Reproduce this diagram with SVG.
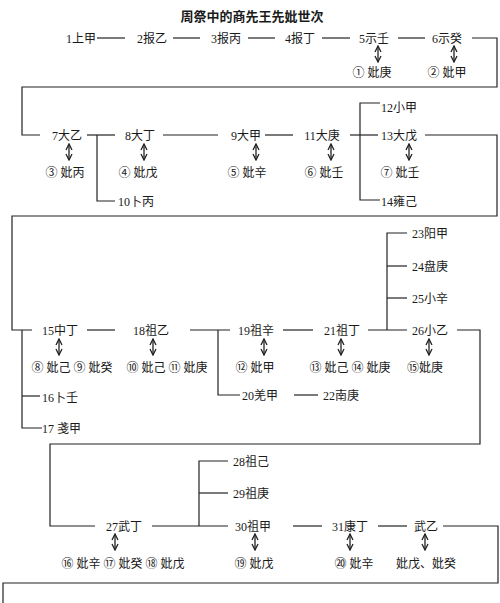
<svg xmlns="http://www.w3.org/2000/svg" width="500" height="603" viewBox="0 0 500 603">
<style>
text{font-family:"Liberation Serif","Noto Sans CJK SC",serif;font-size:12px;fill:#1a1a1a}
.t{font-size:13px;font-weight:bold}
.m{text-anchor:middle}
.s{text-anchor:start}
.c line,.c polyline{stroke:#222;stroke-width:1.2;fill:none}
.c .a{stroke-width:1.3}
</style>
<defs>
<marker id="ah" viewBox="0 0 8 8" refX="7" refY="4" markerWidth="8" markerHeight="8" markerUnits="userSpaceOnUse" orient="auto-start-reverse">
<path d="M1,1 L7,4 L1,7" fill="none" stroke="#222" stroke-width="1.3"/>
</marker>
</defs>
<rect width="500" height="603" fill="#fff"/>
<text class="t m" x="252" y="21">周祭中的商先王先妣世次</text>
<g class="c" id="connectors">
<line x1="97" y1="38" x2="125" y2="38"/>
<line x1="173" y1="38" x2="200" y2="38"/>
<line x1="248" y1="38" x2="275" y2="38"/>
<line x1="322" y1="38" x2="350" y2="38"/>
<line x1="398" y1="38" x2="425" y2="38"/>
<polyline points="472,38 497,38 497,87 22,87 22,135 40,135"/>
<line x1="87" y1="135" x2="115" y2="135"/>
<polyline points="97,135 97,201 115,201"/>
<line x1="163" y1="135" x2="218" y2="135"/>
<line x1="265" y1="135" x2="293" y2="135"/>
<line x1="350" y1="135" x2="378" y2="135"/>
<polyline points="380,103 360,103 360,200 380,200"/>
<polyline points="425,135 497,135 497,216 12,216 12,330 32,330"/>
<polyline points="22,330 22,428 42,428"/>
<line x1="22" y1="396" x2="40" y2="396"/>
<line x1="87" y1="330" x2="115" y2="330"/>
<line x1="190" y1="330" x2="230" y2="330"/>
<polyline points="218,330 218,395 240,395"/>
<line x1="283" y1="330" x2="313" y2="330"/>
<line x1="368" y1="330" x2="407" y2="330"/>
<polyline points="407,233 387,233 387,330"/>
<line x1="387" y1="266" x2="407" y2="266"/>
<line x1="387" y1="298" x2="407" y2="298"/>
<line x1="294" y1="395" x2="318" y2="395"/>
<polyline points="457,330 480,330 480,444 50,444 50,526 95,526"/>
<line x1="152" y1="526" x2="228" y2="526"/>
<polyline points="228,461 199,461 199,526"/>
<line x1="199" y1="493" x2="228" y2="493"/>
<line x1="293" y1="526" x2="322" y2="526"/>
<line x1="378" y1="526" x2="407" y2="526"/>
<polyline points="443,526 498,526 498,583 3,583 3,603"/>
<g id="spouse-links">
<line class="a" x1="378" y1="46" x2="378" y2="62" marker-start="url(#ah)" marker-end="url(#ah)"/>
<line class="a" x1="454" y1="46" x2="454" y2="62" marker-start="url(#ah)" marker-end="url(#ah)"/>
<line class="a" x1="69" y1="144" x2="69" y2="160" marker-start="url(#ah)" marker-end="url(#ah)"/>
<line class="a" x1="144" y1="144" x2="144" y2="160" marker-start="url(#ah)" marker-end="url(#ah)"/>
<line class="a" x1="256" y1="144" x2="256" y2="160" marker-start="url(#ah)" marker-end="url(#ah)"/>
<line class="a" x1="331" y1="144" x2="331" y2="160" marker-start="url(#ah)" marker-end="url(#ah)"/>
<line class="a" x1="409" y1="144" x2="409" y2="160" marker-start="url(#ah)" marker-end="url(#ah)"/>
<line class="a" x1="59" y1="339" x2="59" y2="355" marker-start="url(#ah)" marker-end="url(#ah)"/>
<line class="a" x1="153" y1="339" x2="153" y2="355" marker-start="url(#ah)" marker-end="url(#ah)"/>
<line class="a" x1="264" y1="339" x2="264" y2="355" marker-start="url(#ah)" marker-end="url(#ah)"/>
<line class="a" x1="341" y1="339" x2="341" y2="355" marker-start="url(#ah)" marker-end="url(#ah)"/>
<line class="a" x1="429" y1="339" x2="429" y2="355" marker-start="url(#ah)" marker-end="url(#ah)"/>
<line class="a" x1="115" y1="534" x2="115" y2="550" marker-start="url(#ah)" marker-end="url(#ah)"/>
<line class="a" x1="255" y1="534" x2="255" y2="550" marker-start="url(#ah)" marker-end="url(#ah)"/>
<line class="a" x1="350" y1="534" x2="350" y2="550" marker-start="url(#ah)" marker-end="url(#ah)"/>
<line class="a" x1="425" y1="534" x2="425" y2="550" marker-start="url(#ah)" marker-end="url(#ah)"/>
</g>
</g>
<g id="k1"><text class="m" x="81" y="42.5">1上甲</text></g>
<g id="k2"><text class="m" x="152" y="42.5">2报乙</text></g>
<g id="k3"><text class="m" x="226" y="42.5">3报丙</text></g>
<g id="k4"><text class="m" x="300" y="42.5">4报丁</text></g>
<g id="k5"><text class="m" x="374" y="42.5">5示壬</text></g>
<g id="k6"><text class="m" x="447" y="42.5">6示癸</text></g>
<g id="s1"><text class="m" x="372" y="76.5">① 妣庚</text></g>
<g id="s2"><text class="m" x="447" y="76.5">② 妣甲</text></g>
<g id="k7"><text class="m" x="67" y="140">7大乙</text></g>
<g id="k8"><text class="m" x="140" y="140">8大丁</text></g>
<g id="k9"><text class="m" x="246" y="140">9大甲</text></g>
<g id="k10"><text class="s" x="118" y="205.5">10卜丙</text></g>
<g id="k11"><text class="m" x="322" y="140">11大庚</text></g>
<g id="k12"><text class="s" x="381" y="111.5">12小甲</text></g>
<g id="k13"><text class="s" x="381" y="140">13大戊</text></g>
<g id="k14"><text class="s" x="381" y="205.5">14雍己</text></g>
<g id="s3"><text class="m" x="65" y="176.5">③ 妣丙</text></g>
<g id="s4"><text class="m" x="138" y="176.5">④ 妣戊</text></g>
<g id="s5"><text class="m" x="247" y="176.5">⑤ 妣辛</text></g>
<g id="s6"><text class="m" x="324" y="176.5">⑥ 妣壬</text></g>
<g id="s7"><text class="m" x="400" y="176.5">⑦ 妣壬</text></g>
<g id="k15"><text class="m" x="60" y="335">15中丁</text></g>
<g id="k16"><text class="s" x="42" y="401.5">16卜壬</text></g>
<g id="k17"><text class="s" x="42" y="432.5">17 戔甲</text></g>
<g id="k18"><text class="m" x="151" y="335">18祖乙</text></g>
<g id="k19"><text class="m" x="256" y="335">19祖辛</text></g>
<g id="k20"><text class="s" x="242" y="399.5">20羌甲</text></g>
<g id="k22"><text class="s" x="323" y="399.5">22南庚</text></g>
<g id="k21"><text class="m" x="342" y="335">21祖丁</text></g>
<g id="k23"><text class="s" x="412" y="237.5">23阳甲</text></g>
<g id="k24"><text class="s" x="412" y="270.5">24盘庚</text></g>
<g id="k25"><text class="s" x="412" y="302.5">25小辛</text></g>
<g id="k26"><text class="m" x="430" y="335">26小乙</text></g>
<g id="s8"><text class="m" x="72" y="371.5">⑧ 妣己 ⑨ 妣癸</text></g>
<g id="s10"><text class="m" x="167" y="371.5">⑩ 妣己 ⑪ 妣庚</text></g>
<g id="s12"><text class="m" x="255" y="371.5">⑫ 妣甲</text></g>
<g id="s13"><text class="m" x="350" y="371.5">⑬ 妣己 ⑭ 妣庚</text></g>
<g id="s15"><text class="m" x="425" y="371.5">⑮妣庚</text></g>
<g id="k27"><text class="m" x="124" y="531">27武丁</text></g>
<g id="k28"><text class="s" x="233" y="465.5">28祖己</text></g>
<g id="k29"><text class="s" x="233" y="497.5">29祖庚</text></g>
<g id="k30"><text class="m" x="253" y="531">30祖甲</text></g>
<g id="k31"><text class="m" x="350" y="531">31康丁</text></g>
<g id="k32"><text class="m" x="426" y="531">武乙</text></g>
<g id="s16"><text class="m" x="123" y="567.5">⑯ 妣辛 ⑰ 妣癸 ⑱ 妣戊</text></g>
<g id="s19"><text class="m" x="254" y="567.5">⑲ 妣戊</text></g>
<g id="s20"><text class="m" x="354" y="567.5">⑳ 妣辛</text></g>
<g id="s21"><text class="m" x="426" y="567.5">妣戊、妣癸</text></g>
</svg>
